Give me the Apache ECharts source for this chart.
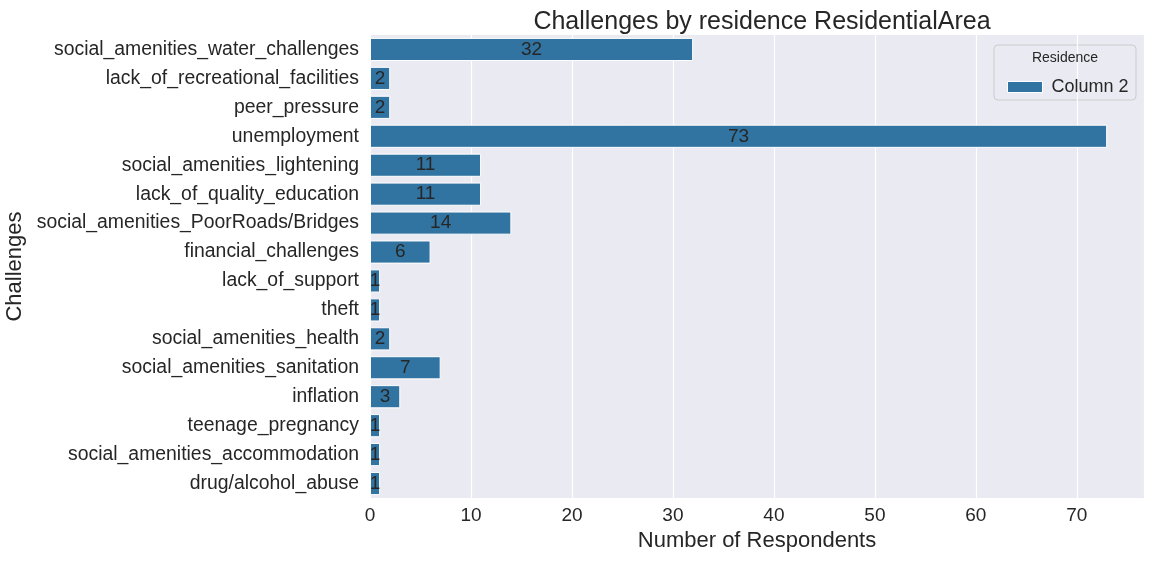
<!DOCTYPE html>
<html>
<head>
<meta charset="utf-8">
<script src="https://cdn.jsdelivr.net/npm/echarts@6/dist/echarts.min.js"></script>
<style>
  html, body { margin: 0; padding: 0; background: #fff; }
  #chart { width: 1154px; height: 561px; }
</style>
</head>
<body>
<div id="chart"></div>
<script>
// challenges, top to bottom
const challenges = [
  'social_amenities_water_challenges',
  'lack_of_recreational_facilities',
  'peer_pressure',
  'unemployment',
  'social_amenities_lightening',
  'lack_of_quality_education',
  'social_amenities_PoorRoads/Bridges',
  'financial_challenges',
  'lack_of_support',
  'theft',
  'social_amenities_health',
  'social_amenities_sanitation',
  'inflation',
  'teenage_pregnancy',
  'social_amenities_accommodation',
  'drug/alcohol_abuse'
]
const column2 = [32, 2, 2, 73, 11, 11, 14, 6, 1, 1, 2, 7, 3, 1, 1, 1]
const xTicks = [0, 10, 20, 30, 40, 50, 60, 70]

const font = 'Liberation Sans, Arial, sans-serif'
const textColor = '#262626'

const chart = echarts.init(document.getElementById('chart'))
chart.setOption({
  animation: false,
  title: {
    text: 'Challenges by residence ResidentialArea',
    left: 757,
    top: 5,
    textAlign: 'center',
    textStyle: { fontFamily: font, fontSize: 25, fontWeight: 'normal', color: textColor }
  },
  grid: {
    left: 370,
    right: 10,
    top: 35,
    bottom: 63,
    show: true,
    backgroundColor: '#EAEAF2',
    borderWidth: 0,
    outerBoundsMode: 'none'
  },
  legend: {
    data: ['Column 2'],
    icon: 'rect',
    left: 1002,
    top: 73,
    itemWidth: 35,
    itemHeight: 11,
    itemGap: 10,
    textStyle: { fontFamily: font, fontSize: 18, color: textColor, padding: [0, 0, 0, 4] },
    itemStyle: { borderColor: '#fff', borderWidth: 1 }
  },
  graphic: [
    {
      type: 'rect',
      z: 0,
      shape: { x: 994, y: 45, width: 142, height: 55, r: 4 },
      style: { fill: 'rgba(234,234,242,0.85)', stroke: '#cccccc', lineWidth: 1 }
    },
    {
      type: 'text',
      z: 1,
      x: 1065,
      y: 51,
      style: { text: 'Residence', fontFamily: font, fontSize: 14, fill: textColor, align: 'center' }
    }
  ],
  xAxis: {
    type: 'value',
    min: 0,
    max: 76.65,
    interval: 10,
    name: 'Number of Respondents',
    nameLocation: 'middle',
    nameGap: 32,
    nameTextStyle: { fontFamily: font, fontSize: 22, color: textColor },
    axisLine: { show: false },
    axisTick: { show: false },
    axisLabel: {
      fontFamily: font,
      fontSize: 19,
      color: textColor,
      margin: 8,
      formatter: v => (xTicks.includes(v) ? String(v) : '')
    },
    splitLine: { lineStyle: { color: '#ffffff', width: 1.2 } }
  },
  yAxis: {
    type: 'category',
    data: challenges,
    inverse: true,
    name: 'Challenges',
    nameLocation: 'middle',
    nameRotate: 90,
    nameGap: 342,
    nameTextStyle: { fontFamily: font, fontSize: 22, color: textColor },
    axisLine: { show: false },
    axisTick: { show: false },
    axisLabel: { fontFamily: font, fontSize: 19.4, color: textColor, margin: 11 },
    splitLine: { show: false }
  },
  series: [
    {
      name: 'Column 2',
      type: 'bar',
      data: column2,
      barCategoryGap: '20%',
      itemStyle: { color: '#3274A1', borderColor: '#ffffff', borderWidth: 1 },
      label: {
        show: true,
        position: 'inside',
        fontFamily: font,
        fontSize: 19,
        color: textColor
      }
    }
  ]
})
</script>
</body>
</html>
